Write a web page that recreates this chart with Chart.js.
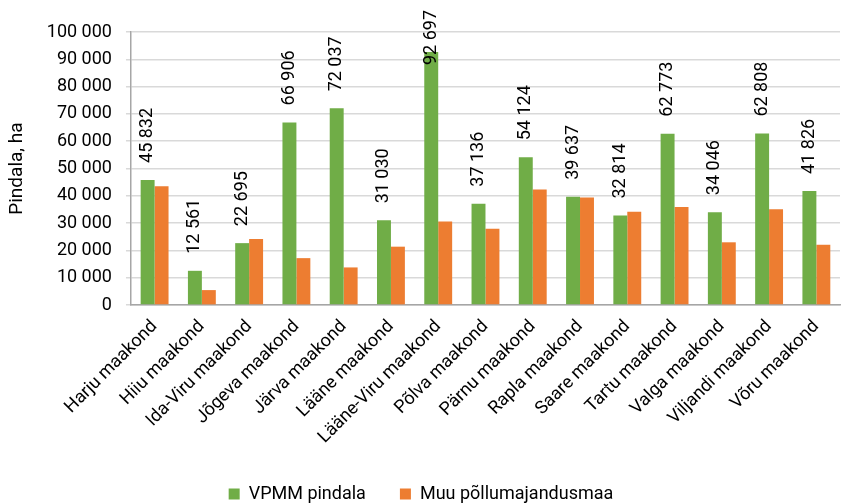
<!DOCTYPE html>
<html>
<head>
<meta charset="utf-8">
<script src="https://cdn.jsdelivr.net/npm/chart.js@4"></script>
<style>
    body { margin: 0; background: #fff; }
</style>
</head>
<body>
<canvas id="chart" width="846" height="504"></canvas>
<script>
// maakonnad
const categories = ['Harju maakond', 'Hiiu maakond', 'Ida-Viru maakond', 'Jõgeva maakond', 'Järva maakond',
    'Lääne maakond', 'Lääne-Viru maakond', 'Põlva maakond', 'Pärnu maakond', 'Rapla maakond',
    'Saare maakond', 'Tartu maakond', 'Valga maakond', 'Viljandi maakond', 'Võru maakond'];

// VPMM pindala, ha
const vpmm = [45832, 12561, 22695, 66906, 72037, 31030, 92697, 37136, 54124, 39637, 32814, 62773, 34046, 62808, 41826];

// muu põllumajandusmaa (loetud pildilt)
const muu = [43500, 5500, 24200, 17200, 13800, 21400, 30600, 28000, 42300, 39400, 34200, 35900, 23000, 35100, 22100];

const yTicks = [0, 10000, 20000, 30000, 40000, 50000, 60000, 70000, 80000, 90000, 100000];

const font = 'Roboto, "DejaVu Sans", sans-serif';

// tuhandete eraldaja tühikuga
function fmt(v) {
    return v.toString().replace(/\B(?=(\d{3})+(?!\d))/g, ' ');
}

// väärtused rohelise tulba kohal
const barLabels = {
    id: 'barLabels',
    afterDatasetsDraw(chart) {
        const ctx = chart.ctx;
        const meta = chart.getDatasetMeta(0);
        ctx.save();
        ctx.font = '18px ' + font;
        ctx.fillStyle = '#000';
        ctx.textAlign = 'left';
        ctx.textBaseline = 'middle';
        meta.data.forEach((bar, i) => {
            const txt = fmt(vpmm[i]);
            const len = ctx.measureText(txt).width;
            let bottom = bar.y - 17;
            if (bottom - len < 10) bottom = 10 + len;
            ctx.save();
            ctx.translate(bar.x, bottom);
            ctx.rotate(-Math.PI / 2);
            ctx.fillText(txt, 0, 0);
            ctx.restore();
        });
        ctx.restore();
    }
};

new Chart(document.getElementById('chart'), {
    type: 'bar',
    data: {
        labels: categories,
        datasets: [
            { label: 'VPMM pindala', data: vpmm, backgroundColor: '#70ad47' },
            { label: 'Muu põllumajandusmaa', data: muu, backgroundColor: '#ed7d31' }
        ]
    },
    options: {
        responsive: false,
        animation: false,
        devicePixelRatio: 1,
        layout: { padding: { top: 32, right: 6, left: 2, bottom: -9 } },
        datasets: { bar: { categoryPercentage: 0.59, barPercentage: 1 } },
        plugins: {
            legend: {
                position: 'bottom',
                labels: { font: { family: font, size: 18 }, color: '#000', boxWidth: 11, boxHeight: 11, padding: 34 }
            },
            tooltip: { enabled: false }
        },
        scales: {
            x: {
                grid: { display: false },
                border: { color: '#a6a6a6', width: 1.5 },
                ticks: {
                    font: { family: font, size: 18 }, color: '#000',
                    minRotation: 45, maxRotation: 45, autoSkip: false
                }
            },
            y: {
                min: 0,
                max: 100000,
                afterBuildTicks: axis => { axis.ticks = yTicks.map(v => ({ value: v })); },
                grid: { color: '#d9d9d9', lineWidth: 1.5, tickLength: 5 },
                border: { color: '#a6a6a6', width: 1.5 },
                ticks: {
                    font: { family: font, size: 18 }, color: '#000', padding: 14,
                    callback: v => fmt(v)
                },
                title: { display: true, text: 'Pindala, ha', font: { family: font, size: 19 }, color: '#000' }
            }
        }
    },
    plugins: [barLabels]
});
</script>
</body>
</html>
